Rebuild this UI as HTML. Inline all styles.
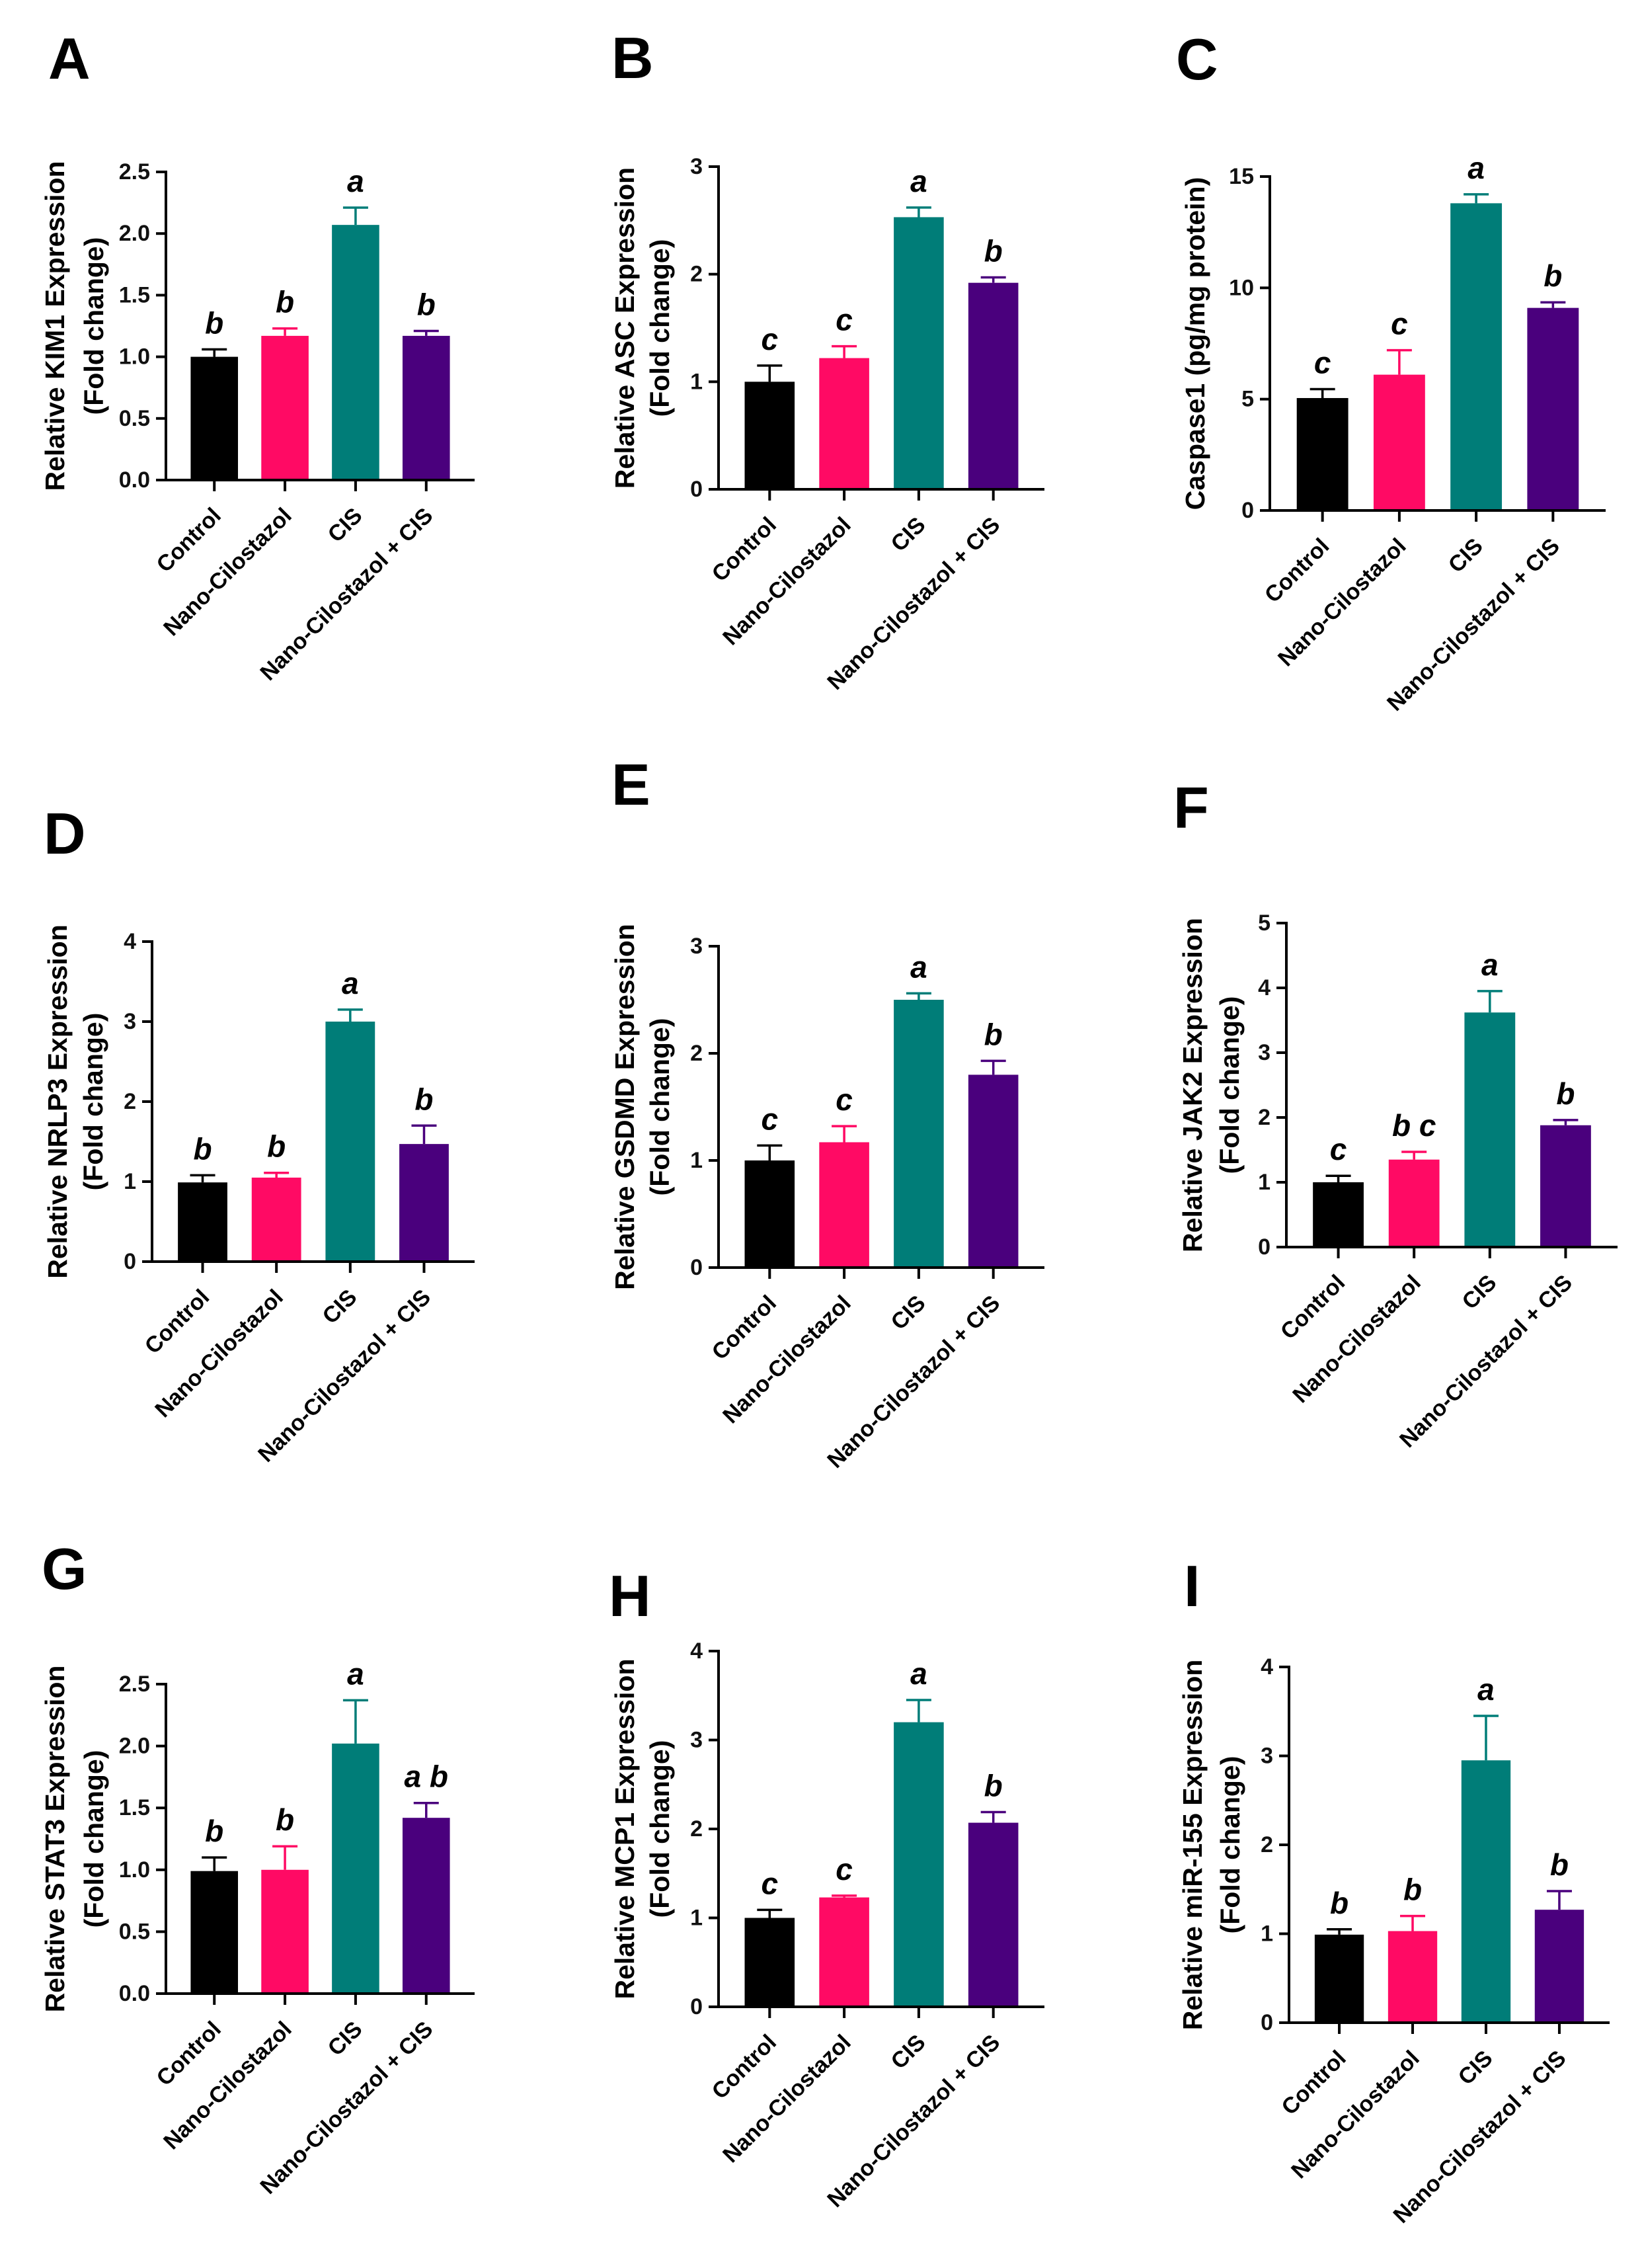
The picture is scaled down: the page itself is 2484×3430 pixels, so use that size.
<!DOCTYPE html>
<html><head><meta charset="utf-8"><style>
html,body{margin:0;padding:0;background:#fff;}
svg{display:block;font-family:"Liberation Sans",Arial,sans-serif;}
</style></head><body>
<svg id="fig" width="2484" height="3430" viewBox="0 0 2484 3430" xmlns="http://www.w3.org/2000/svg">
<rect width="2484" height="3430" fill="#fff"/>
</svg>
<script>
const categories = ["Control","Nano-Cilostazol","CIS","Nano-Cilostazol + CIS"];
const barColors = ["#000000","#ff0a64","#007d78","#4a007d"];

const kimMeans = [1.0, 1.17, 2.07, 1.17];
const kimErr   = [1.06, 1.23, 2.21, 1.21];
const kimSig   = ["b","b","a","b"];

const ascMeans = [1.0, 1.22, 2.53, 1.92];
const ascErr   = [1.15, 1.33, 2.62, 1.97];
const ascSig   = ["c","c","a","b"];

const caspMeans = [5.05, 6.1, 13.8, 9.1];
const caspErr   = [5.45, 7.2, 14.2, 9.35];
const caspSig   = ["c","c","a","b"];

const nlrpMeans = [0.99, 1.05, 3.0, 1.47];
const nlrpErr   = [1.08, 1.11, 3.15, 1.70];
const nlrpSig   = ["b","b","a","b"];

const gsdmdMeans = [1.0, 1.17, 2.5, 1.8];
const gsdmdErr   = [1.14, 1.32, 2.56, 1.93];
const gsdmdSig   = ["c","c","a","b"];

const jakMeans = [1.0, 1.35, 3.62, 1.88];
const jakErr   = [1.1, 1.47, 3.95, 1.96];
const jakSig   = ["c","b c","a","b"];

const statMeans = [0.99, 1.0, 2.02, 1.42];
const statErr   = [1.1, 1.19, 2.37, 1.54];
const statSig   = ["b","b","a","a b"];

const mcpMeans = [1.0, 1.23, 3.2, 2.07];
const mcpErr   = [1.09, 1.25, 3.45, 2.19];
const mcpSig   = ["c","c","a","b"];

const mirMeans = [0.99, 1.03, 2.95, 1.27];
const mirErr   = [1.05, 1.2, 3.45, 1.48];
const mirSig   = ["b","b","a","b"];

const tickA = ["0.0","0.5","1.0","1.5","2.0","2.5"];
const tick3 = ["0","1","2","3"];
const tick4 = ["0","1","2","3","4"];
const tick5 = ["0","1","2","3","4","5"];
const tick15 = ["0","5","10","15"];

const panels = [
 {id:"A",name:"kim1",letter:[73,119],ax:251,top:260,zero:726,right:718,max:2.5,ticks:tickA,title:["Relative KIM1  Expression","(Fold change)"],off:[-168,-109],m:kimMeans,e:kimErr,s:kimSig},
 {id:"B",name:"asc",letter:[925,118],ax:1087,top:252,zero:740,right:1580,max:3,ticks:tick3,title:["Relative ASC Expression","(Fold change)"],off:[-142,-89],m:ascMeans,e:ascErr,s:ascSig},
 {id:"C",name:"caspase1",letter:[1779,120],ax:1921,top:267,zero:772,right:2429,max:15,ticks:tick15,title:["Caspase1 (pg/mg protein)"],off:[-113],m:caspMeans,e:caspErr,s:caspSig},
 {id:"D",name:"nlrp3",letter:[66,1291],ax:230,top:1424,zero:1908,right:718,max:4,ticks:tick4,title:["Relative NRLP3 Expression","(Fold change)"],off:[-143,-89],m:nlrpMeans,e:nlrpErr,s:nlrpSig},
 {id:"E",name:"gsdmd",letter:[925,1217],ax:1087,top:1431,zero:1917,right:1580,max:3,ticks:tick3,title:["Relative GSDMD Expression","(Fold change)"],off:[-142,-89],m:gsdmdMeans,e:gsdmdErr,s:gsdmdSig},
 {id:"F",name:"jak2",letter:[1775,1252],ax:1946,top:1396,zero:1886,right:2447,max:5,ticks:tick5,title:["Relative JAK2 Expression","(Fold change)"],off:[-142,-86],m:jakMeans,e:jakErr,s:jakSig},
 {id:"G",name:"stat3",letter:[63,2403],ax:251,top:2547,zero:3015,right:718,max:2.5,ticks:tickA,title:["Relative STAT3 Expression","(Fold change)"],off:[-168,-109],m:statMeans,e:statErr,s:statSig},
 {id:"H",name:"mcp1",letter:[921,2444],ax:1087,top:2497,zero:3035,right:1580,max:4,ticks:tick4,title:["Relative MCP1 Expression","(Fold change)"],off:[-142,-89],m:mcpMeans,e:mcpErr,s:mcpSig},
 {id:"I",name:"mir155",letter:[1791,2429],ax:1950,top:2521,zero:3059,right:2435,max:4,ticks:tick4,title:["Relative miR-155 Expression","(Fold change)"],off:[-146,-89],m:mirMeans,e:mirErr,s:mirSig}
];

const NS = "http://www.w3.org/2000/svg";
const svg = document.getElementById("fig");
function mk(tag, attrs, parent){
  const el = document.createElementNS(NS, tag);
  for (const k in attrs) el.setAttribute(k, attrs[k]);
  parent.appendChild(el);
  return el;
}

panels.forEach(p => {
  const g = mk("g", {}, svg);
  
  
  const W = p.right - p.ax;
  const step = W * 0.2288;
  const off0 = (W - 3 * step) / 2;
  const bw = step * 0.67;
  const y = v => p.zero - (v / p.max) * (p.zero - p.top);
  const x = i => p.ax + off0 + i * step;

  const L = mk("text", {x:p.letter[0], y:p.letter[1], "font-size":88, "font-weight":"bold", fill:"#000"}, g);
  L.textContent = p.id;
  
  

  const midY = (p.top + p.zero) / 2;
  p.title.forEach((t, k) => {
    const tx = p.ax + p.off[k];
    const T = mk("text", {x:tx, y:midY, "font-size":41, "font-weight":"bold", "text-anchor":"middle", "dominant-baseline":"central", transform:`rotate(-90 ${tx} ${midY})`, fill:"#000"}, g);
    T.textContent = t;
    
    
  });

  p.m.forEach((v, i) => {
    const cx = x(i);
    const col = barColors[i];
    const R = mk("rect", {x:cx - bw/2, y:y(v), width:bw, height:p.zero - y(v), fill:col}, g);
    
    
    const ey = y(p.e[i]);
    const E = mk("path", {d:`M${cx} ${y(v)}V${ey}M${cx-19} ${ey}H${cx+19}`, stroke:col, "stroke-width":3.5, fill:"none"}, g);
    
    
    const S = mk("text", {x:cx, y:ey - 24, "font-size":46, "font-weight":"bold", "font-style":"italic", "text-anchor":"middle", fill:"#000"}, g);
    S.textContent = p.s[i];
    
    
    const xt = mk("line", {x1:cx, y1:p.zero, x2:cx, y2:p.zero + 17, stroke:"#000", "stroke-width":4}, g);
    
    
    const lx = cx + 12, ly = p.zero + 56;
    const XL = mk("text", {x:lx, y:ly, "font-size":34, "font-weight":"bold", "text-anchor":"end", transform:`rotate(-45 ${lx} ${ly})`, fill:"#000"}, g);
    XL.textContent = categories[i];
    
    
  });

  const ya = mk("line", {x1:p.ax, y1:p.top - 2, x2:p.ax, y2:p.zero + 2, stroke:"#000", "stroke-width":4}, g);
  
  
  const xa = mk("line", {x1:p.ax - 2, y1:p.zero, x2:p.right, y2:p.zero, stroke:"#000", "stroke-width":4}, g);
  
  

  const n = p.ticks.length - 1;
  p.ticks.forEach((t, k) => {
    const ty = y(p.max * k / n);
    const tl = mk("line", {x1:p.ax - 15, y1:ty, x2:p.ax, y2:ty, stroke:"#000", "stroke-width":4}, g);
    
    
    const tt = mk("text", {x:p.ax - 24, y:ty, "font-size":34, "font-weight":"bold", "text-anchor":"end", "dominant-baseline":"central", fill:"#111"}, g);
    tt.textContent = t;
    
    
  });
});
</script>
</body></html>
